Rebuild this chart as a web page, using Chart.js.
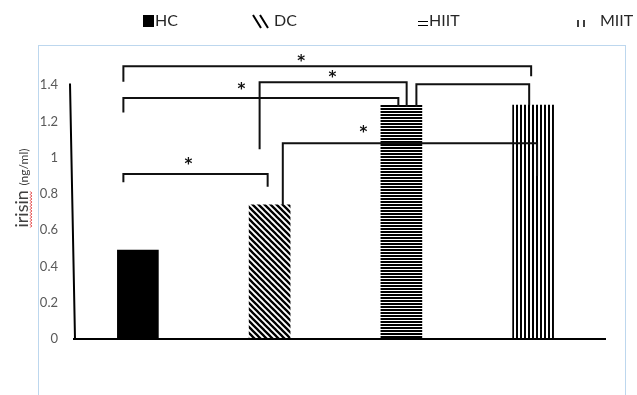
<!DOCTYPE html>
<html>
<head>
<meta charset="utf-8">
<script src="https://cdn.jsdelivr.net/npm/chart.js@4.4.1/dist/chart.umd.min.js"></script>
<style>
  body { margin: 0; background: #fff; }
</style>
</head>
<body>
<canvas id="chart" width="637" height="395"></canvas>
<script>
// values
const categories = ['HC', 'DC', 'HIIT', 'MIIT'];
const irisin = [0.49, 0.74, 1.29, 1.29];
const yTicks = [0, 0.2, 0.4, 0.6, 0.8, 1, 1.2, 1.4];
// significance comparisons (group pairs) and whether a star is shown
const comparisons = [['HC', 'MIIT'], ['HC', 'HIIT'], ['DC', 'HIIT'], ['HIIT', 'MIIT'], ['DC', 'MIIT'], ['HC', 'DC']];
const starred = [true, true, true, false, true, true];

function makePattern(kind) {
    var c = document.createElement('canvas');
    var g;
    if (kind == 'diag') {
        c.width = 6; c.height = 6;
        g = c.getContext('2d');
        g.fillStyle = '#fff'; g.fillRect(0, 0, 6, 6);
        g.strokeStyle = '#000'; g.lineWidth = 2.3;
        g.beginPath();
        g.moveTo(-1, -1); g.lineTo(7, 7);
        g.moveTo(-1, 5); g.lineTo(1, 7);
        g.moveTo(5, -1); g.lineTo(7, 1);
        g.stroke();
    } else if (kind == 'horiz') {
        c.width = 3; c.height = 3;
        g = c.getContext('2d');
        g.fillStyle = '#fff'; g.fillRect(0, 0, 3, 3);
        g.fillStyle = '#000'; g.fillRect(0, 0, 3, 2);
    } else {
        c.width = 4; c.height = 4;
        g = c.getContext('2d');
        g.fillStyle = '#fff'; g.fillRect(0, 0, 4, 4);
        g.fillStyle = '#000'; g.fillRect(0, 0, 2, 4);
    }
    return g.createPattern(c, 'repeat');
}

var fills = ['#000', makePattern('diag'), makePattern('horiz'), makePattern('vert')];

// bracket layout: x offsets (in category widths) of the two ends, bar level, end drops, star spot
var bracketGeom = [
    { off: [-0.11, -0.015], level: 1.505, drop: [1.42, 1.45], star: [1.24, 1.545] },
    { off: [-0.11, -0.023], level: 1.33, drop: [1.25, 1.28], star: [0.786, 1.39] },
    { off: [-0.076, 0.04], level: 1.417, drop: [1.047, 1.28], star: [1.477, 1.455] },
    { off: [0.114, -0.03], level: 1.405, drop: [1.28, 1.29], star: null },
    { off: [0.1, 0.03], level: 1.08, drop: [0.74, 0.9], star: [1.712, 1.15] },
    { off: [-0.11, -0.015], level: 0.91, drop: [0.865, 0.84], star: [0.383, 0.976] }
];

var decor = {
    id: 'decor',
    beforeDraw: function (chart) {
        var ctx = chart.ctx;
        ctx.save();
        ctx.strokeStyle = '#bdd7ee';
        ctx.lineWidth = 1;
        ctx.strokeRect(38.5, 45.5, 587, 400);
        ctx.restore();
    },
    afterDatasetsDraw: function (chart) {
        var ctx = chart.ctx;
        var x = chart.scales.x, y = chart.scales.y;
        var area = chart.chartArea;
        var step = x.getPixelForValue(1) - x.getPixelForValue(0);
        ctx.save();

        // axes
        ctx.strokeStyle = '#000';
        ctx.lineWidth = 2;
        ctx.beginPath();
        ctx.moveTo(area.left - 2, y.getPixelForValue(1.41));
        ctx.lineTo(area.left + 3, y.getPixelForValue(0));
        ctx.moveTo(area.left + 1, y.getPixelForValue(0));
        ctx.lineTo(area.right + 7, y.getPixelForValue(0));
        ctx.stroke();

        // brackets
        ctx.strokeStyle = '#111';
        ctx.lineWidth = 2;
        ctx.fillStyle = '#111';
        ctx.font = 'bold 15px "DejaVu Sans"';
        ctx.textAlign = 'center';
        ctx.textBaseline = 'middle';
        comparisons.forEach(function (pair, i) {
            var gm = bracketGeom[i];
            var x1 = x.getPixelForValue(categories.indexOf(pair[0])) + gm.off[0] * step;
            var x2 = x.getPixelForValue(categories.indexOf(pair[1])) + gm.off[1] * step;
            var yl = y.getPixelForValue(gm.level);
            ctx.beginPath();
            ctx.moveTo(x1, y.getPixelForValue(gm.drop[0]));
            ctx.lineTo(x1, yl);
            ctx.lineTo(x2, yl);
            ctx.lineTo(x2, y.getPixelForValue(gm.drop[1]));
            ctx.stroke();
            if (starred[i] && gm.star) {
                var sx = x.getPixelForValue(0) + gm.star[0] * step;
                ctx.fillText('*', sx, y.getPixelForValue(gm.star[1]) + 3);
            }
        });

        // legend
        ctx.font = '16px Lato';
        ctx.textAlign = 'left';
        ctx.textBaseline = 'middle';
        var ly = 21;
        var legendX = [[143, 155], [253, 274], [418, 429], [577, 600]];
        categories.forEach(function (name, i) {
            var sx = legendX[i][0];
            ctx.strokeStyle = '#000';
            ctx.fillStyle = '#000';
            if (i == 0) {
                ctx.fillRect(sx, 15, 11, 12);
            } else if (i == 1) {
                ctx.lineWidth = 2;
                ctx.beginPath();
                for (var k = 0; k < 2; k++) {
                    ctx.moveTo(sx + k * 7, 15);
                    ctx.lineTo(sx + k * 7 + 8, 28);
                }
                ctx.stroke();
            } else if (i == 2) {
                ctx.lineWidth = 1;
                ctx.beginPath();
                ctx.moveTo(sx, 21.5); ctx.lineTo(sx + 10, 21.5);
                ctx.moveTo(sx, 25.5); ctx.lineTo(sx + 10, 25.5);
                ctx.stroke();
            } else {
                ctx.lineWidth = 1.5;
                ctx.beginPath();
                ctx.moveTo(sx + 1, 20); ctx.lineTo(sx + 1, 27);
                ctx.moveTo(sx + 7, 20); ctx.lineTo(sx + 7, 27);
                ctx.stroke();
            }
            ctx.fillStyle = '#262626';
            ctx.fillText(name, legendX[i][1], ly);
        });

        // y-axis title
        ctx.translate(28, 188);
        ctx.rotate(-Math.PI / 2);
        ctx.textBaseline = 'alphabetic';
        ctx.textAlign = 'left';
        ctx.fillStyle = '#404040';
        ctx.font = '18px Lato';
        var w1 = ctx.measureText('irisin ').width;
        ctx.font = '12px Lato';
        var w2 = ctx.measureText('(ng/ml)').width;
        var start = -(w1 + w2) / 2;
        ctx.font = '18px Lato';
        ctx.fillText('irisin', start, 0);
        var wi = ctx.measureText('irisin').width;
        ctx.font = '12px Lato';
        ctx.fillText('(ng/ml)', start + w1, 0);
        // spell-check squiggle
        ctx.strokeStyle = '#e03030';
        ctx.lineWidth = 1;
        ctx.beginPath();
        for (var t = 0; t <= wi; t += 1.5) {
            var yy = 2.5 + ((Math.round(t / 1.5) % 2) ? 1.2 : -0.2);
            if (t == 0) ctx.moveTo(start + t, yy); else ctx.lineTo(start + t, yy);
        }
        ctx.stroke();
        ctx.restore();
    }
};

new Chart(document.getElementById('chart').getContext('2d'), {
    type: 'bar',
    data: {
        labels: categories,
        datasets: [{
            data: irisin,
            backgroundColor: fills,
            borderWidth: 0,
            barThickness: 41
        }]
    },
    options: {
        responsive: false,
        animation: false,
        layout: { padding: { left: 40, right: 38, top: 49, bottom: 56 } },
        plugins: { legend: { display: false }, tooltip: { enabled: false } },
        scales: {
            x: { display: false, offset: true },
            y: {
                min: 0,
                max: 1.6,
                afterBuildTicks: function (s) { s.ticks = yTicks.map(function (v) { return { value: v }; }); },
                afterFit: function (s) { s.width = 32; },
                grid: { display: false, drawTicks: false },
                border: { display: false },
                ticks: {
                    color: '#595959',
                    font: { family: 'Lato', size: 13 },
                    padding: 14,
                    callback: function (v) { return String(v); }
                }
            }
        }
    },
    plugins: [decor]
});
</script>
</body>
</html>
